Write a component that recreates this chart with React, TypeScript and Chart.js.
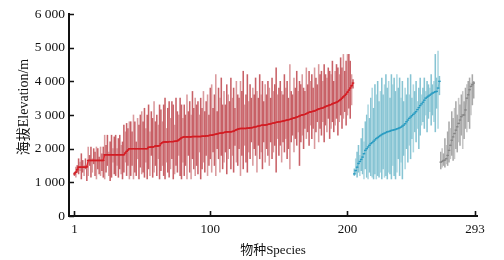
import React, { useEffect, useRef } from "react";
import { Chart, registerables } from "chart.js";

Chart.register(...registerables);

// ---- Data (elevation in m) ----
const redStart = 1;
const redMid = [
  1250, 1300, 1380,
  1450, 1450, 1450, 1450, 1450, 1450, 1460,
  1650, 1650, 1650, 1650, 1650, 1650, 1650, 1650, 1650, 1650, 1650, 1650,
  1820, 1820, 1820, 1820, 1820, 1820, 1820, 1820, 1820, 1820, 1820, 1820, 1820, 1820, 1820,
  1870, 1920, 1960, 2000,
  2000, 2000, 2000, 2000, 2000, 2000, 2000, 2000, 2000, 2000, 2000, 2000, 2000,
  2040, 2040, 2050, 2050, 2060, 2080, 2080, 2080, 2090,
  2150, 2180, 2200, 2200, 2200, 2200, 2210, 2210, 2210, 2210, 2220, 2220, 2230, 2260, 2290,
  2320, 2340, 2350, 2350, 2350, 2350, 2350, 2350, 2360, 2360, 2360, 2360, 2360, 2360, 2360, 2370, 2370, 2370, 2380, 2380, 2390, 2400,
  2400, 2410, 2420, 2430, 2440, 2450, 2460, 2460, 2470, 2480, 2490, 2500, 2500, 2500, 2500, 2510, 2520, 2540, 2560, 2580, 2590, 2600, 2600, 2600, 2600, 2600, 2610, 2610, 2620, 2620,
  2630, 2640, 2650, 2660, 2670, 2680, 2690, 2700, 2700, 2700, 2710, 2720, 2730, 2740, 2750, 2760, 2770, 2780, 2790, 2800, 2800, 2810, 2820, 2830, 2840, 2850, 2860, 2870, 2880, 2900, 2910, 2920, 2940, 2950, 2970,
  2990, 3000, 3010, 3020, 3040, 3060, 3080, 3090, 3100, 3110, 3120, 3140, 3160, 3180, 3190, 3200, 3210, 3230, 3250, 3270, 3280, 3300, 3310, 3330, 3350, 3360, 3380, 3400,
  3430, 3460, 3500, 3540, 3580, 3620, 3680, 3740, 3800, 3870, 3950,
];
const redMin = [
  1200, 1150, 1300, 1250, 1350, 1100, 1300, 1200, 1400, 1050,
  1200, 1500, 1150, 1300, 1550, 1200, 1100, 1400, 1250, 1200,
  1350, 1150, 1100, 1300, 1500, 1200, 1050, 1150, 1600, 1250,
  1200, 1500, 1150, 1400, 1250, 1100, 1300, 1600, 1200, 1500,
  1100, 1200, 1500, 1100, 1300, 1200, 1700, 1100, 1450, 1250,
  1300, 1150, 1600, 1100, 1400, 1200, 1800, 1150, 1300, 1500,
  1200, 1700, 1100, 1350, 1500, 1200, 1100, 1600, 1300, 1150,
  1400, 1700, 1100, 1250, 1500, 1300, 1800, 1200, 1100, 1600,
  1200, 1500, 1100, 1800, 1300, 1100, 1700, 1400, 1200, 1500,
  1250, 1900, 1100, 1400, 1600, 1300, 1800, 1200, 1500, 1700,
  1300, 1900, 1500, 1200, 2000, 1700, 1300, 1800, 1400, 1600,
  1900, 1250, 1700, 2000, 1400, 1800, 1300, 2100, 1600, 1500,
  2000, 1200, 1800, 1400, 2100, 1600, 1300, 1900, 1700, 2200,
  1500, 2000, 1800, 1300, 2100, 1700, 1900, 1400, 2200, 1600,
  2000, 1800, 1500, 2200, 1700, 1900, 2100, 1300, 2300, 1800,
  2100, 1600, 2200, 1900, 2300, 1700, 2000, 1400, 2200, 2400,
  1900, 2300, 2100, 2500, 1500, 2200, 2400, 2000, 2600, 2300,
  2500, 2100, 2700, 2300, 2600, 2000, 2500, 2800, 2200, 2600,
  2400, 2800, 2200, 2700, 2500, 2900, 2300, 2600, 2800, 2500,
  2700, 2900, 2400, 2800, 3000, 2600, 2900, 3100, 2700, 3000,
  3200, 2900, 3300, 3800,
];
const redMax = [
  1300, 1450, 1500, 1700, 1600, 1850, 1650, 1500, 1700, 1500,
  2050, 1800, 2050, 1700, 2000, 1900, 2050, 2000, 1750, 2050,
  1850, 2050, 2400, 2100, 2400, 1900, 2200, 2400, 2000, 2350,
  2400, 2000, 2300, 2400, 2100, 2200, 2700, 2500, 2750, 2600,
  2800, 2800, 2500, 3000, 2800, 2200, 2900, 2700, 3000, 3100,
  2800, 3200, 2600, 3000, 3300, 2500, 3100, 2900, 3400, 2800,
  3000, 2700, 3300, 3150, 2800, 3300, 3500, 2600, 3200, 3400,
  2900, 3400, 3300, 2700, 3500, 3100, 3000, 3500, 3300, 2900,
  3300, 3000, 3600, 3100, 3400, 3000, 3700, 3200, 3500, 3300,
  3400, 3000, 3500, 3200, 3700, 3100, 3400, 3600, 3000, 3800,
  3900, 3200, 3600, 4200, 3100, 3800, 3500, 4100, 3300, 3700,
  3300, 3900, 3600, 3400, 4100, 3500, 3800, 3200, 4000, 3600,
  3500, 4000, 3700, 4300, 3300, 3600, 4200, 3400, 3900, 3500,
  3800, 3600, 4100, 3700, 3500, 4200, 3600, 4000, 3400, 3900,
  3600, 4000, 3800, 3500, 4100, 3700, 3900, 4400, 3600, 3800,
  4000, 3700, 3600, 4200, 3800, 4000, 3500, 4500, 3700, 3600,
  4100, 3800, 4300, 3700, 4000, 3900, 4200, 3800, 3700, 4400,
  3900, 4300, 4000, 4200, 3800, 4400, 4100, 3900, 4500, 4200,
  4300, 4000, 4500, 4200, 4100, 4400, 4300, 4200, 4600, 4000,
  4300, 4500, 4400, 4200, 4700, 4400, 4800, 4300, 4600, 4800,
  4800, 4600, 4200, 4050,
];

const cyanStart = 205;
const cyanMid = [
  1250, 1350, 1450, 1560,
  1620, 1680, 1750, 1850, 1950,
  2000, 2050, 2100, 2150, 2180, 2220, 2260,
  2300, 2330, 2360, 2390, 2420, 2440, 2460, 2480, 2500, 2510,
  2520, 2540, 2550, 2560, 2570, 2590, 2600,
  2620, 2640, 2670, 2700, 2740, 2800,
  2850, 2900, 2940, 2980, 3020, 3060, 3100,
  3160, 3220, 3280, 3330, 3380, 3440, 3500,
  3530, 3560, 3590, 3620, 3650, 3670, 3690, 3700,
  3800, 4000,
];
const cyanMin = [
  1200, 1250, 1150, 1300, 1200, 1350, 1250, 1100, 1400, 1150,
  1100, 1300, 1200, 1150, 1100, 1250, 1100, 1200, 1150, 1300,
  1100, 1400, 1150, 1200, 1100, 1300, 1250, 1100, 1500, 1200,
  1100, 1300, 1700, 1200, 1600, 1100, 1800, 1400, 2000, 1600,
  2100, 1700, 2300, 1900, 2500, 2200, 2600, 2000, 2400, 2700,
  2800, 2600, 3000, 2500, 2900, 3100, 2700, 3000, 2800, 2500,
  3200, 2600, 3600,
];
const cyanMax = [
  1400, 1700, 1900, 2100, 1800, 2300, 2600, 2200, 2800, 3000,
  3300, 2900, 3500, 3800, 3200, 3900, 3600, 4000, 3400, 3700,
  4100, 3600, 3900, 4200, 3800, 4000, 3500, 4200, 3900, 4100,
  3700, 4200, 3800, 4100, 3500, 4000, 3400, 3800, 3600, 4100,
  3600, 4200, 3500, 3900, 3700, 4000, 3400, 3800, 4100, 3600,
  3800, 4100, 3700, 4000, 3900, 3800, 4200, 3900, 4000, 4800,
  4100, 4900, 4150,
];

const grayStart = 268;
const grayMid = [
  1600, 1620, 1650, 1660, 1700,
  1800, 1950, 2100, 2250, 2350,
  2450, 2550, 2650, 2750, 2850, 2950,
  3000, 3000, 3150, 3500,
  3600, 3750, 3850, 3900, 3950,
];
const grayMin = [
  1400, 1450, 1500, 1450, 1550, 1500, 1600, 1700, 1800, 1650,
  1700, 2000, 1900, 2200, 2100, 2400, 2000, 2300, 2600, 2500,
  2800, 2600, 3000, 3300, 3500,
];
const grayMax = [
  1900, 2000, 1850, 2300, 2100, 2500, 2800, 2600, 3100, 2900,
  3200, 3400, 3000, 3500, 3300, 3600, 3700, 3400, 3800, 3900,
  4000, 4100, 3950, 4200, 4000,
];

const xTickValues = [1, 100, 200, 293];
const yTickValues = [0, 1000, 2000, 3000, 4000, 5000, 6000];
const xTitle = "物种Species";
const yTitle = "海拔Elevation/m";

const FONT = "'Liberation Serif', 'Times New Roman', 'Noto Sans CJK SC', serif";

const rangeData = (start: number, mn: number[], mx: number[]) =>
  mn.map((v, i) => ({ x: start + i, y: [v, mx[i]] }));
const midData = (start: number, md: number[]) =>
  md.map((v, i) => ({ x: start + i, y: v }));

const axisDecor = {
  id: "axisDecor",
  afterDraw(chart: any) {
    const { ctx, chartArea, scales } = chart;
    ctx.save();
    ctx.strokeStyle = "#111";
    ctx.lineWidth = 1.6;
    ctx.beginPath();
    yTickValues.forEach((v) => {
      const y = Math.round(scales.y.getPixelForValue(v)) + 0.5;
      ctx.moveTo(chartArea.left, y);
      ctx.lineTo(chartArea.left + 5, y);
    });
    xTickValues.forEach((v) => {
      const x = Math.round(scales.x.getPixelForValue(v)) + 0.5;
      ctx.moveTo(x, chartArea.bottom);
      ctx.lineTo(x, chartArea.bottom - 5);
    });
    ctx.stroke();
    // rotated y-axis title
    ctx.translate(24, chartArea.top + (chartArea.bottom - chartArea.top) / 2 - 8);
    ctx.rotate(-Math.PI / 2);
    ctx.fillStyle = "#111";
    ctx.font = `14px ${FONT}`;
    ctx.textAlign = "center";
    ctx.textBaseline = "middle";
    ctx.fillText(yTitle, 0, 0);
    ctx.restore();
  },
};

export default function App() {
  const ref = useRef<HTMLCanvasElement | null>(null);

  useEffect(() => {
    if (!ref.current) return;
    const barCommon = {
      type: "bar" as const,
      barThickness: 0.9,
      borderWidth: 0,
      grouped: false,
      order: 2,
    };
    const lineCommon = {
      type: "line" as const,
      pointStyle: "line" as const,
      tension: 0,
      order: 1,
    };
    const alt = (a: string, b: string) => (c: any) => (c.dataIndex % 3 === 1 ? b : a);
    const chart = new Chart(ref.current, {
      type: "bar",
      data: {
        datasets: [
          { ...barCommon, data: rangeData(redStart, redMin, redMax) as any, backgroundColor: alt("rgba(194, 80, 86, 0.9)", "rgba(212, 136, 140, 0.85)") },
          { ...barCommon, data: rangeData(cyanStart, cyanMin, cyanMax) as any, backgroundColor: alt("rgba(122, 190, 206, 0.9)", "rgba(158, 208, 220, 0.85)") },
          { ...barCommon, data: rangeData(grayStart, grayMin, grayMax) as any, backgroundColor: alt("rgba(160, 160, 160, 0.9)", "rgba(188, 188, 188, 0.85)") },
          { ...lineCommon, data: midData(redStart, redMid) as any, borderWidth: 1.4, pointRadius: 1.3, pointBorderWidth: 1.3, borderColor: "#e3262c", pointBorderColor: "#d11d24", pointBackgroundColor: "#d11d24" },
          { ...lineCommon, data: midData(cyanStart, cyanMid) as any, borderWidth: 0.7, pointRadius: 1.3, pointBorderWidth: 1.4, borderColor: "rgba(42,156,194,0.6)", pointBorderColor: "#2a9cc2", pointBackgroundColor: "#2a9cc2" },
          { ...lineCommon, data: midData(grayStart, grayMid) as any, borderWidth: 0.7, pointRadius: 1.3, pointBorderWidth: 1.3, borderColor: "rgba(130,130,130,0.6)", pointBorderColor: "#858585", pointBackgroundColor: "#858585" },
        ] as any,
      },
      options: {
        animation: false,
        responsive: false,
        events: [],
        layout: { padding: { left: 0, right: 27, top: 14, bottom: 0 } },
        plugins: { legend: { display: false }, tooltip: { enabled: false } },
        scales: {
          x: {
            type: "linear",
            min: -3.0,
            max: 294.4,
            offset: false,
            grid: { display: true, drawOnChartArea: false, drawTicks: false },
            border: { display: true, color: "#111", width: 2 },
            afterBuildTicks: (s: any) => {
              s.ticks = xTickValues.map((v) => ({ value: v }));
            },
            afterFit: (s: any) => {
              s.height = 44;
              s.paddingLeft = 0;
              s.paddingRight = 0;
            },
            ticks: {
              autoSkip: false,
              maxRotation: 0,
              padding: 6,
              color: "#111",
              font: { family: FONT, size: 13 },
              callback: (v: any) => String(v),
            },
            title: {
              display: true,
              text: xTitle,
              color: "#111",
              font: { family: FONT, size: 13 },
              padding: { top: 0, bottom: 2 },
            },
          },
          y: {
            type: "linear",
            min: 0,
            max: 6000,
            grid: { display: true, drawOnChartArea: false, drawTicks: false },
            border: { display: true, color: "#111", width: 2 },
            afterBuildTicks: (s: any) => {
              s.ticks = yTickValues.map((v) => ({ value: v }));
            },
            afterFit: (s: any) => {
              s.width = 69;
              s.paddingTop = 0;
              s.paddingBottom = 0;
            },
            ticks: {
              padding: 4,
              color: "#111",
              font: { family: FONT, size: 13.5 },
              callback: (v: any) => String(v).replace(/\B(?=(\d{3})+(?!\d))/g, " "),
            },
            title: { display: false },
          },
        },
      },
      plugins: [axisDecor],
    });
    return () => chart.destroy();
  }, []);

  return (
    <div style={{ position: "absolute", left: 0, top: 0, width: 504, height: 260, background: "#fff" }}>
      <canvas ref={ref} width={504} height={260} style={{ display: "block", width: 504, height: 260 }} />
    </div>
  );
}
